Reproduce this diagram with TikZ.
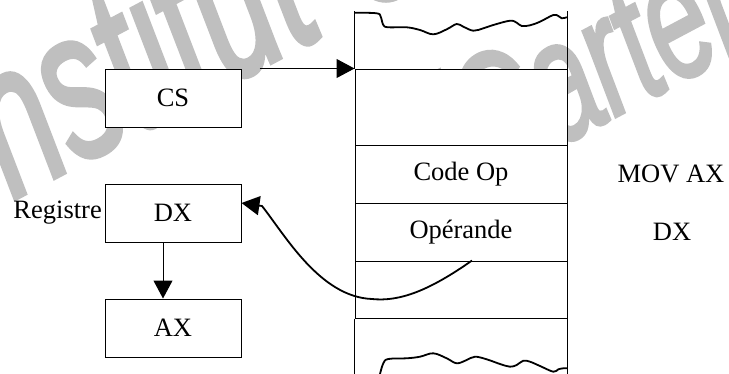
\documentclass[tikz,border=0pt]{standalone}
\usepackage{fontspec}
\setmainfont{Liberation Serif}
\newfontfamily\wmfont{Liberation Sans}[FakeBold=2.5]
\usetikzlibrary{arrows.meta,calc}
\begin{document}
\begin{tikzpicture}[x=1pt,y=-1pt,
  txt/.style={font=\fontsize{26.5}{30}\selectfont, inner sep=0pt},
  regbox/.style={txt, draw, line width=1pt, fill=white, minimum width=136pt, minimum height=58pt},
  cell/.style={txt, draw, line width=1pt, fill=white, minimum width=212pt},
  tip/.style={-{Triangle[length=18pt,width=19pt]}, line width=1pt},
  wavy/.style={line width=1.8pt, line join=round, line cap=round},
  watermark/.style={text=black!25, inner sep=0pt, anchor=base west, rotate=28}]
\useasboundingbox (0,0) rectangle (729,373);
% watermark (behind everything)
\node[watermark, xscale=0.63, font=\wmfont\itshape\fontsize{212}{212}\selectfont] (wm1) at (-20,217) {Institut Universitaire};
\node[watermark, xscale=0.65, font=\wmfont\itshape\fontsize{170}{170}\selectfont] (wm2) at (462,198) {/Carter};
% registers
\node[regbox] (CS) at (173,98) {CS};
\node[regbox] (DX) at (173,213) {DX};
\node[regbox] (AX) at (173,328) {AX};
\node[txt, anchor=east] (regl) at (102,213) {Registre};
% memory
\node[cell, minimum height=76pt] (m1) at (461,107) {};
\node[cell, minimum height=58pt] (m2) at (461,174) {Code Op};
\node[cell, minimum height=58pt] (m3) at (461,232) {Opérande};
\node[cell, minimum height=57pt] (m4) at (461,289.5) {};
\draw[line width=1pt] (m1.north west) -- ++(0,-58) coordinate (tl);
\draw[line width=1pt] (m1.north east) -- ++(0,-58) coordinate (tr);
\draw[line width=1pt] (m4.south west) -- ++(0,56);
\draw[line width=1pt] (m4.south east) -- ++(0,56);
\draw[wavy] plot[smooth, tension=0.6] coordinates {(355.3,12.7) (376.7,13.3) (380.7,16.7) (383.3,25) (388.3,27.3) (406.7,27.3) (420,30) (433.3,34.3) (446.7,29.3) (456.7,24) (463.3,26.7) (473.3,30.7) (483.3,28.3) (493.3,25) (510,20.7) (516.7,22.7) (521.7,26) (530,25.3) (540,21.7) (553.3,15) (558.3,16) (561.7,18.3) (566.7,17.3)};
\draw[wavy] plot[smooth, tension=0.6] coordinates {(380,374) (383.3,363.3) (388.3,359) (406.7,358.3) (420,356.7) (433.3,353.3) (446.7,358.3) (456.7,363.3) (466.7,360) (475,356.7) (486.7,359.3) (500,364) (510,366.7) (516.7,365) (523.3,360.7) (530,361.7) (540,366) (553.3,371.7) (558.3,369.3) (563.3,368.3) (566.7,368.3)};
% values
\node[txt] (mov) at (671,174) {MOV AX};
\node[txt] (dxv) at (672,232) {DX};
% connectors
\draw[tip] ($(CS.north east)+(18,0)$) -- (m1.north west);
\draw[tip] ([xshift=-10pt]DX.south) -- ([xshift=-10pt]AX.north);
\draw[-{Triangle[length=18pt,width=19pt]}, line width=1.8pt] ([xshift=11pt]m4.north)
  .. controls (430,290) and (400,302) .. (372,299)
  .. controls (320,297) and (285,235) .. (262,206) -- ([yshift=10pt]DX.east);
\end{tikzpicture}
\end{document}
